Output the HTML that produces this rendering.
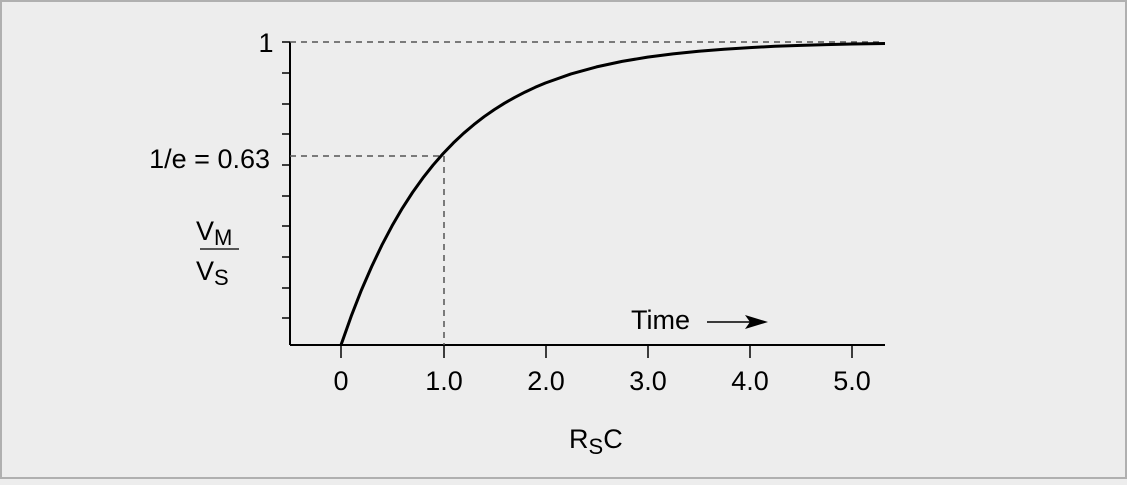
<!DOCTYPE html>
<html><head><style>
html,body{margin:0;padding:0;}
body{width:1127px;height:480px;background:#ededed;overflow:hidden;}
svg text{font-family:"Liberation Sans",sans-serif;fill:#000;}
</style></head><body>
<svg width="1127" height="480" viewBox="0 0 1127 480" xmlns="http://www.w3.org/2000/svg">
<rect x="1" y="1" width="1125" height="477" fill="#ededed" stroke="#b0b0b0" stroke-width="2"/>
<line x1="290" y1="42" x2="290" y2="345" stroke="#000" stroke-width="2"/>
<line x1="290" y1="345" x2="885" y2="345" stroke="#000" stroke-width="2"/>
<g stroke="#000" stroke-width="1.5">
<line x1="282" y1="42" x2="290" y2="42"/>
<line x1="282" y1="73" x2="290" y2="73"/>
<line x1="282" y1="104" x2="290" y2="104"/>
<line x1="282" y1="134" x2="290" y2="134"/>
<line x1="282" y1="165" x2="290" y2="165"/>
<line x1="282" y1="196" x2="290" y2="196"/>
<line x1="282" y1="226" x2="290" y2="226"/>
<line x1="282" y1="257" x2="290" y2="257"/>
<line x1="282" y1="288" x2="290" y2="288"/>
<line x1="282" y1="318" x2="290" y2="318"/>
<line x1="341" y1="345" x2="341" y2="358"/>
<line x1="444" y1="345" x2="444" y2="358"/>
<line x1="546" y1="345" x2="546" y2="358"/>
<line x1="648" y1="345" x2="648" y2="358"/>
<line x1="750" y1="345" x2="750" y2="358"/>
<line x1="852" y1="345" x2="852" y2="358"/>
</g>
<g stroke="#555" stroke-width="1.5" stroke-dasharray="6,5" fill="none">
<line x1="290" y1="42" x2="880" y2="42"/>
<line x1="290" y1="156" x2="444" y2="156"/>
<line x1="444" y1="156" x2="444" y2="345"/>
</g>
<path d="M341,345 L351.2,316.2 L361.4,290.1 L371.7,266.5 L381.9,245.1 L392.1,225.8 L402.3,208.3 L412.5,192.5 L422.8,178.1 L433,165.2 L443.2,153.5 L453.4,142.9 L463.6,133.3 L473.9,124.6 L484.1,116.7 L494.3,109.6 L504.5,103.2 L514.7,97.4 L525,92.1 L535.2,87.3 L545.4,83 L571,73.9 L596.5,66.9 L622.1,61.4 L647.6,57.1 L673,53.9 L698.7,51.2 L724,49.2 L749.8,47.6 L775,46.3 L800.9,45.4 L826,44.6 L852,44 L885,43.5" fill="none" stroke="#000" stroke-width="3" stroke-linejoin="round"/>
<g font-size="27">
<text x="266" y="52" text-anchor="middle">1</text>
<text x="270" y="168" text-anchor="end">1/e = 0.63</text>
<text x="341" y="390" text-anchor="middle">0</text>
<text x="444" y="390" text-anchor="middle">1.0</text>
<text x="546" y="390" text-anchor="middle">2.0</text>
<text x="648" y="390" text-anchor="middle">3.0</text>
<text x="750" y="390" text-anchor="middle">4.0</text>
<text x="852" y="390" text-anchor="middle">5.0</text>
<text x="631" y="329">Time</text>
<text x="569" y="448">R<tspan font-size="22" dy="6">S</tspan><tspan dy="-6">C</tspan></text>
<text x="196" y="240">V<tspan font-size="22" dy="5">M</tspan></text>
<text x="196" y="280">V<tspan font-size="22" dy="5">S</tspan></text>
</g>
<line x1="200" y1="249" x2="239" y2="249" stroke="#555" stroke-width="2"/>
<line x1="707" y1="322" x2="750" y2="322" stroke="#000" stroke-width="1.5"/>
<path d="M745,315 L768,322 L745,329 L750,322 Z" fill="#000"/>
</svg>
</body></html>
